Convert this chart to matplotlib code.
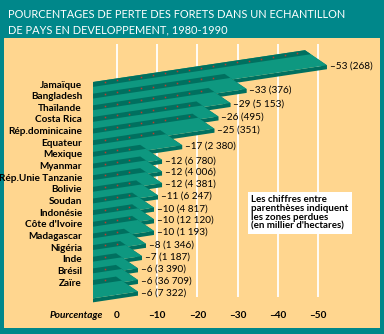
import matplotlib.pyplot as plt
from matplotlib.patches import Polygon, Rectangle

pays = ['Jamaïque', 'Bangladesh', 'Thaïlande', 'Costa Rica', 'Rép.dominicaine',
        'Equateur', 'Mexique', 'Myanmar', 'Rép.Unie Tanzanie', 'Bolivie',
        'Soudan', 'Indonésie', "Côte d'Ivoire", 'Madagascar', 'Nigéria',
        'Inde', 'Brésil', 'Zaïre']
perte = [53, 33, 29, 26, 25, 17, 12, 12, 12, 11, 10, 10, 10, 8, 7, 6, 6, 6]
zones = ['268', '376', '5 153', '495', '351', '2 380', '6 780', '4 006', '4 381',
         '6 247', '4 817', '12 120', '1 193', '1 346', '1 187', '3 390',
         '36 709', '7 322']
ticks = [0, 10, 20, 30, 40, 50]

TEAL = '#00878a'
TAN = '#ffd68f'
FACE = '#0e9880'
DARK = '#00705f'
FONT = 'Lato'

W, H = 384, 334
PX = 4.02          # pixels par point de pourcentage
X0 = 117           # position en pixels du zero
def val(px):
    return (px - X0) / PX

fig = plt.figure(figsize=(W / 100, H / 100), dpi=100, facecolor=TEAL)
ax = fig.add_axes([4 / W, 6 / H, 376 / W, 290 / H])
ax.set_facecolor(TAN)
ax.set_xlim(val(4), val(380))
ax.set_ylim(328, 38)
ax.axis('off')
ax.add_patch(Rectangle((val(4), 38), val(380) - val(4), 290, color=TAN, zorder=0))

# lignes verticales blanches
ax.vlines(ticks, 44, 297, color='white', lw=1.3, zorder=1)

# barres en perspective
slope = 0.15 * PX     # pixels y par unite
dx_side = 22 / PX
dy_side = 15
xl = val(93)
for i, (nom, v, z) in enumerate(zip(pays, perte, zones)):
    yb = 82 + 11.65 * i
    xc = v - 0.8
    bx = xc - dx_side
    by = yb - slope * (bx - xl)
    cy = by + dy_side
    dy = cy + slope * (xc - xl)
    zo = 2 + i
    # epaisseur
    ax.add_patch(Polygon([(xl, dy), (xc, cy), (xc, cy + 4), (xl, dy + 4)],
                         closed=True, color=DARK, zorder=zo, lw=0))
    ax.add_patch(Polygon([(bx, by), (xc, cy), (xc, cy + 4), (bx, by + 4)],
                         closed=True, color=DARK, zorder=zo, lw=0))
    # face superieure
    ax.add_patch(Polygon([(xl, yb), (bx, by), (xc, cy), (xl, dy)],
                         closed=True, color=FACE, zorder=zo, lw=0))
    # bord arriere sombre
    t = 4 / dy_side
    ax.add_patch(Polygon([(xl, yb), (bx, by), (bx + dx_side * t, by + 4),
                          (xl, yb + 4 + slope * dx_side * t)],
                         closed=True, color=DARK, zorder=zo, lw=0))
    # petits points rouges
    n = int((bx - xl) * PX / 12)
    for k in range(1, n + 1):
        xx = xl + k * 12 / PX
        ax.plot(xx, yb + 2 - slope * (xx - xl), marker='s', ms=1.1,
                color='#c0392b', mew=0, zorder=zo)
    ax.text(val(82), yb + 3, nom, ha='right', va='center', fontsize=7.2,
            fontweight='bold', family=FONT, zorder=30)
    ax.text(xc + 3 / PX, cy + 1, '\u2013%d (%s)' % (v, z), ha='left', va='center',
            fontsize=7.2, family=FONT, zorder=30)

# axe
for t in ticks:
    lab = '0' if t == 0 else '\u2013%d' % t
    ax.text(t, 316, lab, ha='center', va='center', fontsize=7.2,
            fontweight='bold', family=FONT, zorder=30)
ax.text(val(103), 316, 'Pourcentage', ha='right', va='center', fontsize=7.2,
        fontweight='bold', style='italic', family=FONT, zorder=30)

# encadre
ax.text(val(251), 213, "Les chiffres entre\nparenthèses indiquent\nles zones perdues\n(en millier d'hectares)",
        ha='left', va='center', fontsize=7, fontweight='bold', family=FONT,
        linespacing=0.95, zorder=30,
        bbox=dict(boxstyle='square,pad=0.35', fc='white', ec='none'))

# titre
fig.text(8 / W, 1 - 15 / H, 'POURCENTAGES DE PERTE DES FORETS DANS UN ECHANTILLON',
         color='white', fontsize=7.9, family=FONT, va='center', ha='left')
fig.text(8 / W, 1 - 30 / H, 'DE PAYS EN DEVELOPPEMENT, 1980-1990',
         color='white', fontsize=7.9, family=FONT, va='center', ha='left')

fig.savefig('out.png', dpi=100, facecolor=TEAL)
